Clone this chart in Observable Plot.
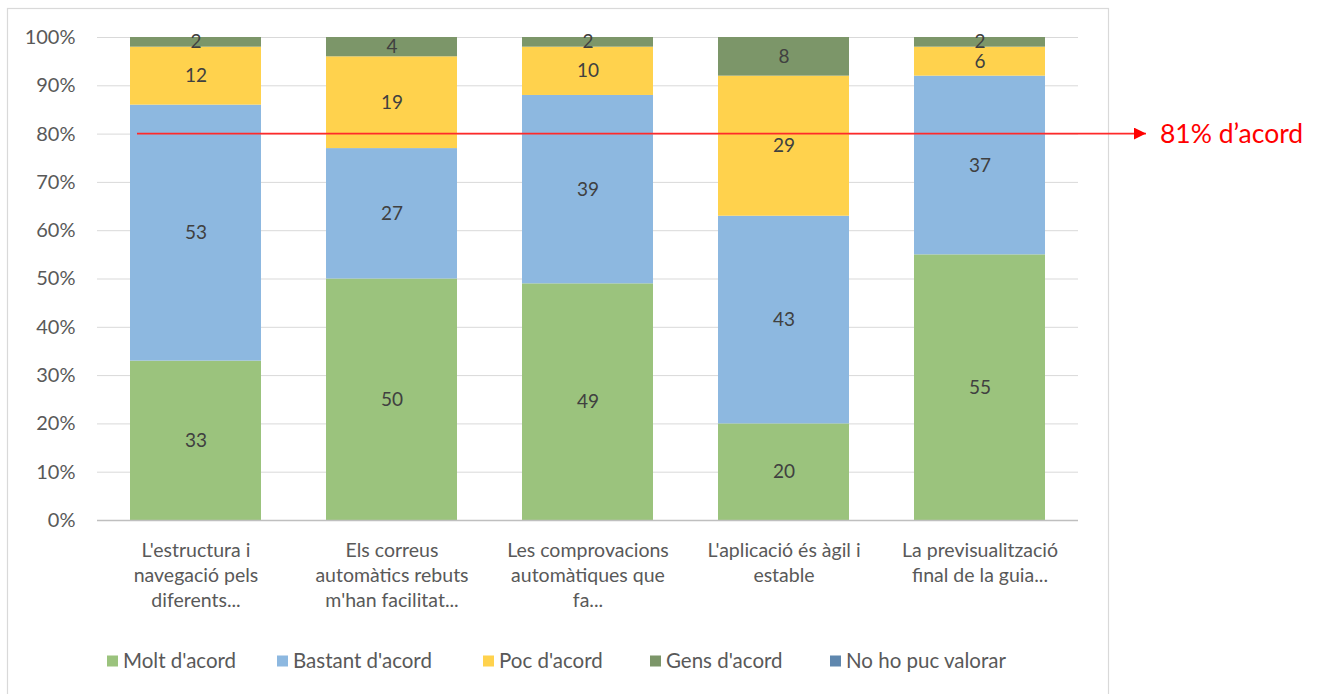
<!DOCTYPE html>
<html>
<head>
<meta charset="utf-8">
<script src="https://cdn.jsdelivr.net/npm/d3@7"></script>
<script src="https://cdn.jsdelivr.net/npm/@observablehq/plot@0.6"></script>
<style>
  html, body { margin: 0; padding: 0; background: #fff; }
  svg { display: block; }
</style>
</head>
<body>
<div id="chart"></div>
<script>
const categories = [
  "L'estructura i\nnavegació pels\ndiferents...",
  "Els correus\nautomàtics rebuts\nm'han facilitat...",
  "Les comprovacions\nautomàtiques que\nfa...",
  "L'aplicació és àgil i\nestable",
  "La previsualització\nfinal de la guia..."
];
const seriesNames = ["Molt d'acord", "Bastant d'acord", "Poc d'acord", "Gens d'acord", "No ho puc valorar"];
const seriesColors = ["#9BC37D", "#8DB8E0", "#FFD24D", "#7C9669", "#5F87AE"];
const moltAcord    = [33, 50, 49, 20, 55];
const bastantAcord = [53, 27, 39, 43, 37];
const pocAcord     = [12, 19, 10, 29, 6];
const gensAcord    = [2, 4, 2, 8, 2];
const noHoPuc      = [0, 0, 0, 0, 0];
const yTicks = [0, 10, 20, 30, 40, 50, 60, 70, 80, 90, 100];
const refValue = 80;
const refLabel = "81% d\u2019acord";

const seriesValues = [moltAcord, bastantAcord, pocAcord, gensAcord, noHoPuc];
const rows = [];
categories.forEach((c, i) => {
  seriesNames.forEach((s, j) => {
    rows.push({category: c, series: s, value: seriesValues[j][i]});
  });
});

const W = 1321, H = 694;
const font = "Lato, 'Open Sans', sans-serif";

const chart = Plot.plot({
  width: W,
  height: H,
  marginLeft: 97,
  marginRight: 243,
  marginTop: 37,
  marginBottom: 174,
  style: {fontFamily: font, background: "#fff"},
  x: {domain: categories, paddingInner: 0.333, paddingOuter: 0.1667, label: null},
  y: {domain: [0, 100], label: null},
  color: {domain: seriesNames, range: seriesColors},
  marks: [
    Plot.gridY(yTicks, {stroke: "#D9D9D9", strokeOpacity: 1, strokeWidth: 1}),
    Plot.barY(rows, {x: "category", y: "value", fill: "series", order: seriesNames}),
    Plot.text(rows.filter(d => d.value > 0), Plot.stackY({
      x: "category", y: "value", z: "series", order: seriesNames,
      text: d => String(d.value), fill: "#404040", fontSize: 19
    })),
    Plot.ruleY([0], {stroke: "#BFBFBF", strokeWidth: 1.3}),
    Plot.axisY({ticks: yTicks, tickFormat: d => d + "%", tickSize: 0, tickPadding: 22,
      fontSize: 20, color: "#595959", label: null}),
    Plot.axisX({tickSize: 0, tickPadding: 18, fontSize: 19.5, color: "#595959",
      lineHeight: 1.3, lineAnchor: "top", label: null})
  ]
});

const svg = d3.select(chart);
const yS = chart.scale("y");
const xS = chart.scale("x");

// chart frame border
svg.insert("rect", ":first-child")
  .attr("x", 7.5).attr("y", 8.5).attr("width", 1101).attr("height", 700)
  .attr("fill", "none").attr("stroke", "#D9D9D9").attr("stroke-width", 1.2);

// red reference line with arrow
const yRef = yS.apply(refValue);
const xStart = xS.apply(categories[0]) + 7;
const defs = svg.append("defs");
defs.append("marker").attr("id", "arrowhead").attr("viewBox", "0 0 10 10")
  .attr("refX", 10).attr("refY", 5).attr("markerWidth", 12).attr("markerHeight", 12)
  .attr("markerUnits", "userSpaceOnUse").attr("orient", "auto")
  .append("path").attr("d", "M0,0L10,5L0,10Z").attr("fill", "#FF0000");
svg.append("line")
  .attr("x1", xStart).attr("x2", 1146).attr("y1", yRef).attr("y2", yRef)
  .attr("stroke", "#FF2A2A").attr("stroke-width", 1.6)
  .attr("marker-end", "url(#arrowhead)");
svg.append("text")
  .attr("x", 1160).attr("y", yRef).attr("dy", "0.35em")
  .attr("text-anchor", "start")
  .attr("fill", "#FF0000").attr("font-size", 26.5).attr("font-family", font)
  .text(refLabel);

// legend
const legendX = [107, 277, 483, 650, 830];
const legendY = 661;
const lg = svg.append("g").attr("font-family", font).attr("font-size", 20.5)
  .attr("fill", "#595959").attr("text-anchor", "start");
seriesNames.forEach((s, i) => {
  lg.append("rect").attr("x", legendX[i]).attr("y", legendY - 5.5).attr("width", 11).attr("height", 11)
    .attr("fill", seriesColors[i]);
  lg.append("text").attr("x", legendX[i] + 16).attr("y", legendY).attr("dy", "0.35em").text(s);
});

document.getElementById("chart").appendChild(chart);
</script>
</body>
</html>
